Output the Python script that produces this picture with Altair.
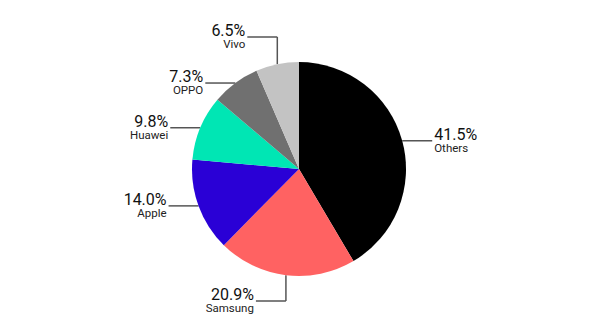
import altair as alt
import pandas as pd

brands = ["Others", "Samsung", "Apple", "Huawei", "OPPO", "Vivo"]
shares = [41.5, 20.9, 14.0, 9.8, 7.3, 6.5]
colors = ["#000000", "#ff6262", "#2a00d6", "#00e6b4", "#707070", "#c3c3c3"]

df = pd.DataFrame({"brand": brands, "share": shares, "order": list(range(len(brands)))})

R = 107
FONT = "Roboto"

xs = alt.Scale(domain=[-299, 301], nice=False, zero=False)
ys = alt.Scale(domain=[-167, 169], nice=False, zero=False)

base = alt.Chart(df)

pie = base.mark_arc(outerRadius=R).encode(
    theta=alt.Theta("share:Q", stack=True),
    order=alt.Order("order:Q"),
    color=alt.Color("brand:N", scale=alt.Scale(domain=brands, range=colors), legend=None),
    x=alt.value(299),
    y=alt.value(169),
)

geo = base.transform_window(
    cum="sum(share)", sort=[alt.SortField("order")]
).transform_calculate(
    a="(datum.cum - datum.share/2) / 100 * 2 * PI",
).transform_calculate(
    s="sin(datum.a)", c="cos(datum.a)",
).transform_calculate(
    ex=f"{R} * datum.s", ey=f"{R} * datum.c",
    vert="abs(datum.s) < 0.4",
    dir="datum.s > 0 ? 1 : -1",
).transform_calculate(
    bx="datum.ex",
    by=f"datum.vert ? (datum.c > 0 ? 1 : -1) * ({R} + 25) : datum.ey",
).transform_calculate(
    lx="datum.bx + datum.dir * 30",
    ly="datum.by",
    pct="format(datum.share, '.1f') + '%'",
).transform_calculate(
    tx="datum.lx + datum.dir * 2",
    ty1="datum.ly + 1",
    ty2="datum.ly - 11",
)

seg1 = geo.mark_rule(color="#555555", strokeWidth=1.5).encode(
    x=alt.X("ex:Q", scale=xs, axis=None),
    y=alt.Y("ey:Q", scale=ys, axis=None),
    x2="bx:Q", y2="by:Q",
)
seg2 = geo.mark_rule(color="#555555", strokeWidth=1.5).encode(
    x=alt.X("bx:Q", scale=xs, axis=None),
    y=alt.Y("by:Q", scale=ys, axis=None),
    x2="lx:Q", y2="ly:Q",
)

def labels(side_filter, align):
    g = geo.transform_filter(side_filter)
    p = g.mark_text(align=align, baseline="alphabetic", font=FONT, fontSize=16, color="#111111").encode(
        x=alt.X("tx:Q", scale=xs, axis=None),
        y=alt.Y("ty1:Q", scale=ys, axis=None),
        text="pct:N",
    )
    n = g.mark_text(align=align, baseline="alphabetic", font=FONT, fontSize=11.5, color="#222222").encode(
        x=alt.X("tx:Q", scale=xs, axis=None),
        y=alt.Y("ty2:Q", scale=ys, axis=None),
        text="brand:N",
    )
    return p + n

right = labels("datum.dir > 0", "left")
left = labels("datum.dir < 0", "right")

chart = alt.layer(seg1, seg2, pie, right, left).properties(
    width=600, height=336, padding=0, autosize="none"
).configure_view(stroke=None)

chart.save("out.html", embed_options={"renderer": "svg", "actions": False})
